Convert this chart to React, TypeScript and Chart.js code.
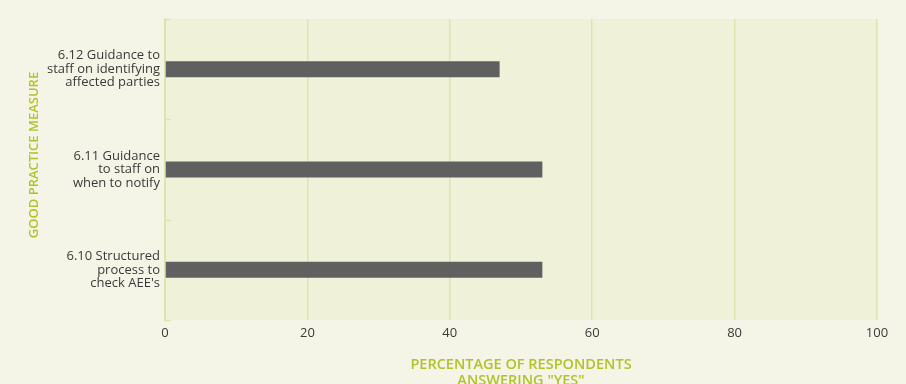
import React, { useEffect, useRef } from "react";
import { Chart, registerables } from "chart.js";

Chart.register(...registerables);

const categories: string[][] = [
  ["6.12 Guidance to", "staff on identifying", "affected parties"],
  ["6.11 Guidance", "to staff on", "when to notify"],
  ["6.10 Structured", "process to", "check AEE's"],
];
const values: number[] = [47, 53, 53];
const xTicks: number[] = [0, 20, 40, 60, 80, 100];
const xTitle: string[] = ["PERCENTAGE OF RESPONDENTS", 'ANSWERING "YES"'];
const yTitle = "GOOD PRACTICE MEASURE";

const PAGE_BG = "#f4f5e6";
const PLOT_BG = "#eff2d8";
const GRID = "#dde4ad";
const TITLE_COLOR = "#b3c22c";
const TEXT = "#3a3a3a";
const FONT = "'Open Sans', 'DejaVu Sans', sans-serif";

const plotBg = {
  id: "plotBg",
  beforeDraw(chart: any) {
    const { ctx, chartArea } = chart;
    ctx.save();
    ctx.fillStyle = PLOT_BG;
    ctx.fillRect(chartArea.left, chartArea.top, chartArea.right - chartArea.left, chartArea.bottom - chartArea.top);
    ctx.restore();
  },
  afterDatasetsDraw(chart: any) {
    const { ctx, chartArea } = chart;
    const n = chart.data.labels.length;
    const h = (chartArea.bottom - chartArea.top) / n;
    ctx.save();
    ctx.strokeStyle = GRID;
    ctx.lineWidth = 1.5;
    for (let i = 0; i <= n; i++) {
      const y = Math.round(chartArea.top + i * h) + 0.5;
      ctx.beginPath();
      ctx.moveTo(chartArea.left, y);
      ctx.lineTo(chartArea.left + 6, y);
      ctx.stroke();
    }
    ctx.restore();
  },
  afterDraw(chart: any) {
    const { ctx, chartArea } = chart;
    ctx.save();
    ctx.fillStyle = TITLE_COLOR;
    ctx.textAlign = "center";
    ctx.textBaseline = "middle";
    ctx.font = `600 14.5px ${FONT}`;
    const cx = (chartArea.left + chartArea.right) / 2;
    xTitle.forEach((line, i) => {
      ctx.fillText(line, cx, chartArea.bottom + 45 + i * 16);
    });
    ctx.font = `600 13px ${FONT}`;
    ctx.translate(34, chartArea.top + 136);
    ctx.rotate(-Math.PI / 2);
    ctx.fillText(yTitle, 0, 0);
    ctx.restore();
  },
};

export default function App() {
  const ref = useRef<HTMLCanvasElement>(null);
  useEffect(() => {
    document.body.style.margin = "0";
    document.body.style.background = PAGE_BG;
    const chart = new Chart(ref.current!, {
      type: "bar",
      data: {
        labels: categories as any,
        datasets: [
          {
            data: values,
            backgroundColor: "#606060",
            barPercentage: 0.16,
            categoryPercentage: 1,
          },
        ],
      },
      options: {
        indexAxis: "y",
        animation: false,
        responsive: false,
        maintainAspectRatio: false,
        layout: { padding: { left: 0, right: 29, top: 19, bottom: 0 } },
        plugins: { legend: { display: false }, tooltip: { enabled: false } },
        scales: {
          x: {
            min: 0,
            max: 100,
            afterBuildTicks: (scale: any) => {
              scale.ticks = xTicks.map((v) => ({ value: v }));
            },
            afterFit: (scale: any) => {
              scale.height = 64;
              scale.paddingLeft = 0;
              scale.paddingRight = 0;
            },
            grid: { color: GRID, lineWidth: 1.5, drawTicks: false },
            border: { display: false },
            ticks: { color: TEXT, font: { family: FONT, size: 13 }, padding: 5, maxRotation: 0 },
            title: { display: false },
          },
          y: {
            afterFit: (scale: any) => {
              scale.width = 165;
              scale.paddingTop = 0;
              scale.paddingBottom = 0;
            },
            grid: { display: false, drawTicks: false },
            border: { display: true, color: GRID, width: 2 },
            ticks: { color: TEXT, font: { family: FONT, size: 13, lineHeight: 1.03 }, padding: 5 },
            title: { display: false },
          },
        },
      },
      plugins: [plotBg],
    });
    return () => chart.destroy();
  }, []);
  return (
    <div style={{ width: 906, height: 384, background: PAGE_BG }}>
      <canvas ref={ref} width={906} height={384} style={{ display: "block" }} />
    </div>
  );
}
